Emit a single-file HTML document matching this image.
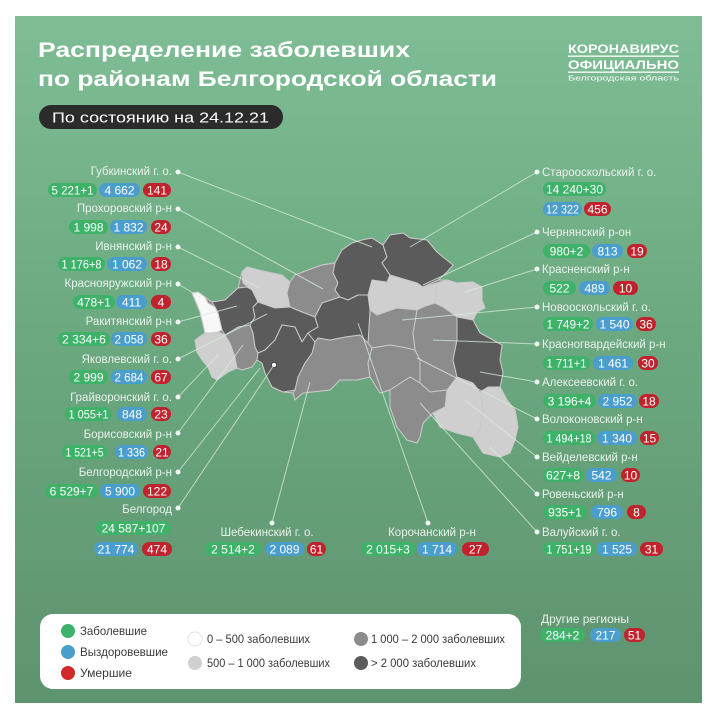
<!DOCTYPE html>
<html><head><meta charset="utf-8"><style>
html,body{margin:0;padding:0;background:#fff;width:720px;height:720px;overflow:hidden}
svg{display:block}
text{font-family:"Liberation Sans","DejaVu Sans",sans-serif}
.lb{font-size:11.5px;fill:#e8f1ea}
.pt{font-size:12px;fill:#fff;text-anchor:middle}
.lg{font-size:12px;fill:#3a3a3a}
</style></head><body>
<svg width="720" height="720" viewBox="0 0 720 720" xmlns="http://www.w3.org/2000/svg">
<defs>
<linearGradient id="bg" x1="0" y1="0" x2="0" y2="1">
<stop offset="0" stop-color="#7ebd95"/>
<stop offset="0.5" stop-color="#6aa77f"/>
<stop offset="1" stop-color="#5e936f"/>
</linearGradient>
</defs>
<rect x="0" y="0" width="720" height="720" fill="#fff"/>
<rect x="15" y="16" width="687" height="687" fill="url(#bg)"/>

<!-- Title -->
<text x="38" y="57" font-size="21" font-weight="bold" fill="#fff" textLength="372" lengthAdjust="spacingAndGlyphs">Распределение заболевших</text>
<text x="38" y="86" font-size="21" font-weight="bold" fill="#fff" textLength="459" lengthAdjust="spacingAndGlyphs">по районам Белгородской области</text>
<rect x="39" y="105" width="244" height="24" rx="12" fill="#2b2b2b"/>
<text x="52" y="122.5" font-size="15" fill="#fff" textLength="217" lengthAdjust="spacingAndGlyphs">По состоянию на 24.12.21</text>

<!-- Logo -->
<text x="568" y="53" font-size="12" font-weight="bold" fill="#fff" textLength="111" lengthAdjust="spacingAndGlyphs">КОРОНАВИРУС</text>
<rect x="568" y="55.5" width="111" height="1.3" fill="#fff"/>
<text x="568" y="69" font-size="12" font-weight="bold" fill="#fff" textLength="111" lengthAdjust="spacingAndGlyphs">ОФИЦИАЛЬНО</text>
<rect x="568" y="71.5" width="111" height="1.3" fill="#fff"/>
<text x="568" y="80.5" font-size="7.5" fill="#fff" textLength="111" lengthAdjust="spacingAndGlyphs">Белгородская область</text>

<!-- Map underlay -->
<g stroke="#c9c9c9" stroke-width="1" stroke-linejoin="round">
<polygon fill="#8c8c8c" points="192,293 198,292 205,297 212,302 225,300 238,288 242,272 247,267 258,270 272,273 282,275 290,282 295,275 308,270 322,265 335,263 342,250 352,243 362,240 372,238 383,245 390,235 403,233 410,238 427,240 437,252 443,257 453,265 447,272 438,280 447,280 457,283 473,282 482,287 482,300 485,308 477,312 473,320 480,333 493,340 502,345 500,360 503,373 500,387 507,400 515,410 518,427 515,440 510,453 500,457 483,453 473,437 457,433 440,427 433,413 423,423 420,437 417,443 407,440 397,427 390,407 390,390 380,393 370,377 357,380 340,380 330,390 303,393 295,400 293,393 283,392 272,387 265,373 262,363 257,360 252,367 242,370 237,368 228,372 217,380 212,377 208,367 202,360 197,352 195,340 205,333 202,320 200,312 195,300"/>
<!-- light -->
<polygon fill="#cfcfcf" points="242,272 247,267 258,270 272,273 282,275 290,282 287,293 290,307 275,308 258,302 252,290 243,283"/>
<polygon fill="#cfcfcf" points="195,340 205,333 218,332 225,335 230,343 235,357 237,368 228,372 217,380 212,377 208,367 202,360 197,352"/>
<polygon fill="#cfcfcf" points="368,295 372,280 387,282 390,275 417,283 423,287 437,283 435,303 423,307 417,310 397,308 377,315 370,310"/>
<polygon fill="#cfcfcf" points="437,283 447,280 457,283 473,282 482,287 482,300 485,308 477,312 473,320 457,317 443,307 435,303"/>
<polygon fill="#cfcfcf" points="447,390 457,377 473,383 480,392 483,410 480,430 473,437 457,433 440,427 433,413 445,407"/>
<polygon fill="#cfcfcf" points="480,392 488,387 500,387 507,400 515,410 518,427 515,440 510,453 500,457 483,453 473,437 480,430 483,410"/>
<!-- mid -->
<polygon fill="#8c8c8c" points="225,335 238,327 250,325 253,333 255,347 258,353 257,360 252,367 242,370 237,368 235,357 230,343"/>
<polygon fill="#8c8c8c" points="290,282 295,275 308,270 322,265 335,263 333,273 338,283 335,290 340,297 322,303 315,317 302,312 290,307 287,293"/>
<polygon fill="#8c8c8c" points="315,342 318,338 330,340 345,337 360,335 368,343 372,348 368,363 370,377 357,380 340,380 330,390 303,393 295,400 293,393 295,390 298,377 305,363 312,353"/>
<polygon fill="#8c8c8c" points="417,310 423,307 435,303 443,307 457,317 457,340 453,360 457,377 447,390 430,392 420,383 420,360 415,350 413,333"/>
<polygon fill="#8c8c8c" points="370,310 377,315 397,308 417,310 413,333 415,350 407,348 390,345 372,348 368,343"/>
<polygon fill="#8c8c8c" points="372,348 390,345 407,348 415,350 420,360 420,383 410,377 390,390 380,393 370,377 368,363"/>
<polygon fill="#8c8c8c" points="390,390 410,377 420,383 430,392 447,390 445,407 433,413 423,423 420,437 417,443 407,440 397,427 390,407"/>
<!-- dark -->
<polygon fill="#5b5b5b" points="212,302 225,300 238,288 247,287 252,290 258,302 253,307 255,317 250,325 238,327 225,335 222,330 218,313 215,307"/>
<polygon fill="#5b5b5b" points="258,302 275,308 290,307 302,312 315,317 318,327 308,333 302,342 295,327 282,325 275,340 265,350 258,353 255,347 253,333 250,325 255,317 253,307"/>
<polygon fill="#5b5b5b" points="275,340 282,325 295,327 302,342 308,333 315,342 312,353 305,363 298,377 295,390 283,392 272,387 265,373 262,363 257,360 258,353 265,350"/>
<polygon fill="#5b5b5b" points="335,263 342,250 352,243 362,240 372,238 383,245 387,257 382,263 390,275 387,282 372,280 368,295 358,295 348,300 340,297 335,290 338,283 333,273"/>
<polygon fill="#5b5b5b" points="315,317 322,303 340,297 348,300 358,295 368,295 370,310 368,343 360,335 345,337 330,340 318,338 315,342 308,333 318,327"/>
<polygon fill="#5b5b5b" points="383,245 390,235 403,233 410,238 427,240 437,252 443,257 453,265 447,272 438,280 423,287 417,283 390,275 382,263 387,257"/>
<polygon fill="#5b5b5b" points="457,317 473,320 480,333 493,340 502,345 500,360 503,373 500,387 488,387 480,392 473,383 457,377 453,360 457,340"/>
<!-- white -->
<polygon fill="#f8f8f8" points="192,293 198,292 205,297 208,303 215,307 218,313 222,330 218,332 210,333 205,333 202,320 200,312 195,300"/>
</g>
<circle cx="274" cy="365" r="2.6" fill="#fff" stroke="#333" stroke-width="0.8"/>

<!-- Leader lines -->
<g stroke="#d8eedc" stroke-width="1" opacity="0.75">
<line x1="178" y1="172" x2="372" y2="247"/>
<line x1="178" y1="209" x2="323" y2="289"/>
<line x1="178" y1="247" x2="260" y2="288"/>
<line x1="178" y1="284" x2="200" y2="297"/>
<line x1="178" y1="322" x2="237" y2="306"/>
<line x1="178" y1="359" x2="267" y2="314"/>
<line x1="178" y1="397" x2="218" y2="355"/>
<line x1="178" y1="433" x2="243" y2="345"/>
<line x1="178" y1="472" x2="260" y2="368"/>
<line x1="178" y1="508" x2="274" y2="365"/>
<line x1="272" y1="523" x2="310" y2="382"/>
<line x1="428" y1="523" x2="358" y2="323"/>
<line x1="537" y1="172" x2="410" y2="247"/>
<line x1="537" y1="232" x2="423" y2="285"/>
<line x1="537" y1="269" x2="465" y2="292"/>
<line x1="537" y1="307" x2="402" y2="320"/>
<line x1="537" y1="344" x2="433" y2="340"/>
<line x1="537" y1="382" x2="480" y2="372"/>
<line x1="537" y1="419" x2="417" y2="358"/>
<line x1="537" y1="457" x2="465" y2="400"/>
<line x1="537" y1="494" x2="490" y2="447"/>
<line x1="537" y1="532" x2="420" y2="403"/>
</g>
<g fill="#eef6f0">
<circle cx="178" cy="172" r="2.5"/><circle cx="178" cy="209" r="2.5"/><circle cx="178" cy="247" r="2.5"/>
<circle cx="178" cy="284" r="2.5"/><circle cx="178" cy="322" r="2.5"/><circle cx="178" cy="359" r="2.5"/>
<circle cx="178" cy="397" r="2.5"/><circle cx="178" cy="433" r="2.5"/><circle cx="178" cy="472" r="2.5"/>
<circle cx="178" cy="508" r="2.5"/><circle cx="272" cy="523" r="2.5"/><circle cx="428" cy="523" r="2.5"/>
<circle cx="537" cy="172" r="2.5"/><circle cx="537" cy="232" r="2.5"/><circle cx="537" cy="269" r="2.5"/>
<circle cx="537" cy="307" r="2.5"/><circle cx="537" cy="344" r="2.5"/><circle cx="537" cy="382" r="2.5"/>
<circle cx="537" cy="419" r="2.5"/><circle cx="537" cy="457" r="2.5"/><circle cx="537" cy="494" r="2.5"/>
<circle cx="537" cy="532" r="2.5"/>
</g>

<!-- Left labels -->
<g class="lb" text-anchor="end">
<text x="172" y="175">Губкинский г. о.</text>
<text x="172" y="212">Прохоровский р-н</text>
<text x="172" y="250">Ивнянский р-н</text>
<text x="172" y="287">Краснояружский р-н</text>
<text x="172" y="325">Ракитянский р-н</text>
<text x="172" y="363">Яковлевский г. о.</text>
<text x="172" y="401">Грайворонский г. о.</text>
<text x="172" y="438">Борисовский р-н</text>
<text x="172" y="476">Белгородский р-н</text>
<text x="172" y="513">Белгород</text>
</g>
<g class="lb">
<text x="542" y="176">Старооскольский г. о.</text>
<text x="542" y="236">Чернянский р-он</text>
<text x="542" y="273">Красненский р-н</text>
<text x="542" y="311">Новооскольский г. о.</text>
<text x="542" y="348">Красногвардейский р-н</text>
<text x="542" y="386">Алексеевский г. о.</text>
<text x="542" y="423">Волоконовский р-н</text>
<text x="542" y="461">Вейделевский р-н</text>
<text x="542" y="498">Ровеньский р-н</text>
<text x="542" y="536">Валуйский г. о.</text>
</g>
<g class="lb" text-anchor="middle">
<text x="267" y="536">Шебекинский г. о.</text>
<text x="432" y="536">Корочанский р-н</text>
</g>

<!-- Pills -->
<g>
<g fill="#3db268">
<rect x="48" y="183" width="49" height="14" rx="7"/>
<rect x="69" y="220" width="39" height="14" rx="7"/>
<rect x="58" y="257" width="47" height="14" rx="7"/>
<rect x="73" y="295" width="42" height="14" rx="7"/>
<rect x="58" y="332" width="52" height="14" rx="7"/>
<rect x="69" y="370" width="39" height="14" rx="7"/>
<rect x="65" y="407" width="47" height="14" rx="7"/>
<rect x="62" y="445" width="45" height="14" rx="7"/>
<rect x="45" y="484" width="53" height="14" rx="7"/>
<rect x="96" y="521" width="75" height="14" rx="7"/>
<rect x="543" y="182" width="63" height="14" rx="7"/>
<rect x="543" y="244" width="47" height="14" rx="7"/>
<rect x="543" y="281" width="33" height="14" rx="7"/>
<rect x="543" y="317" width="50" height="14" rx="7"/>
<rect x="543" y="356" width="47" height="14" rx="7"/>
<rect x="543" y="394" width="53" height="14" rx="7"/>
<rect x="543" y="431" width="52" height="14" rx="7"/>
<rect x="543" y="468" width="40" height="14" rx="7"/>
<rect x="543" y="505" width="44" height="14" rx="7"/>
<rect x="543" y="542" width="52" height="14" rx="7"/>
<rect x="205" y="542" width="56" height="14" rx="7"/>
<rect x="361" y="542" width="54" height="14" rx="7"/>
<rect x="540" y="628" width="45" height="14" rx="7"/>
</g>
<g fill="#4a9ece">
<rect x="99" y="183" width="41" height="14" rx="7"/>
<rect x="110" y="220" width="37" height="14" rx="7"/>
<rect x="107" y="257" width="40" height="14" rx="7"/>
<rect x="116" y="295" width="31" height="14" rx="7"/>
<rect x="111" y="332" width="36" height="14" rx="7"/>
<rect x="111" y="370" width="36" height="14" rx="7"/>
<rect x="117" y="407" width="30" height="14" rx="7"/>
<rect x="115" y="445" width="33" height="14" rx="7"/>
<rect x="100" y="484" width="40" height="14" rx="7"/>
<rect x="94" y="542" width="44" height="14" rx="7"/>
<rect x="543" y="202" width="39" height="14" rx="7"/>
<rect x="592" y="244" width="31" height="14" rx="7"/>
<rect x="579" y="281" width="31" height="14" rx="7"/>
<rect x="596" y="317" width="37" height="14" rx="7"/>
<rect x="593" y="356" width="40" height="14" rx="7"/>
<rect x="598" y="394" width="39" height="14" rx="7"/>
<rect x="597" y="431" width="40" height="14" rx="7"/>
<rect x="586" y="468" width="31" height="14" rx="7"/>
<rect x="591" y="505" width="32" height="14" rx="7"/>
<rect x="597" y="542" width="40" height="14" rx="7"/>
<rect x="265" y="542" width="39" height="14" rx="7"/>
<rect x="417" y="542" width="40" height="14" rx="7"/>
<rect x="590" y="628" width="31" height="14" rx="7"/>
</g>
<g fill="#c0232d">
<rect x="143" y="183" width="28" height="14" rx="7"/>
<rect x="151" y="220" width="20" height="14" rx="7"/>
<rect x="151" y="257" width="20" height="14" rx="7"/>
<rect x="151" y="295" width="20" height="14" rx="7"/>
<rect x="151" y="332" width="20" height="14" rx="7"/>
<rect x="151" y="370" width="20" height="14" rx="7"/>
<rect x="151" y="407" width="20" height="14" rx="7"/>
<rect x="153" y="445" width="18" height="14" rx="7"/>
<rect x="143" y="484" width="28" height="14" rx="7"/>
<rect x="142" y="542" width="30" height="14" rx="7"/>
<rect x="584" y="202" width="27" height="14" rx="7"/>
<rect x="627" y="244" width="20" height="14" rx="7"/>
<rect x="613" y="281" width="25" height="14" rx="7"/>
<rect x="636" y="317" width="20" height="14" rx="7"/>
<rect x="638" y="356" width="20" height="14" rx="7"/>
<rect x="639" y="394" width="20" height="14" rx="7"/>
<rect x="640" y="431" width="19" height="14" rx="7"/>
<rect x="621" y="468" width="19" height="14" rx="7"/>
<rect x="627" y="505" width="19" height="14" rx="7"/>
<rect x="640" y="542" width="23" height="14" rx="7"/>
<rect x="307" y="542" width="19" height="14" rx="7"/>
<rect x="462" y="542" width="27" height="14" rx="7"/>
<rect x="624" y="628" width="21" height="14" rx="7"/>
</g>
<g class="pt">
<text x="72.5" y="194.5" textLength="42" lengthAdjust="spacingAndGlyphs">5 221+1</text>
<text x="119.5" y="194.5">4 662</text>
<text x="157" y="194.5">141</text>
<text x="88.5" y="231.5">1 998</text>
<text x="128.5" y="231.5" textLength="30" lengthAdjust="spacingAndGlyphs">1 832</text>
<text x="161" y="231.5">24</text>
<text x="81.5" y="268.5" textLength="40" lengthAdjust="spacingAndGlyphs">1 176+8</text>
<text x="127" y="268.5">1 062</text>
<text x="161" y="268.5">18</text>
<text x="94" y="306.5">478+1</text>
<text x="131.5" y="306.5">411</text>
<text x="161" y="306.5">4</text>
<text x="84" y="343.5">2 334+6</text>
<text x="129" y="343.5" textLength="29" lengthAdjust="spacingAndGlyphs">2 058</text>
<text x="161" y="343.5">36</text>
<text x="88.5" y="381.5">2 999</text>
<text x="129" y="381.5" textLength="29" lengthAdjust="spacingAndGlyphs">2 684</text>
<text x="161" y="381.5">67</text>
<text x="88.5" y="418.5" textLength="40" lengthAdjust="spacingAndGlyphs">1 055+1</text>
<text x="132" y="418.5">848</text>
<text x="161" y="418.5">23</text>
<text x="84.5" y="456.5" textLength="38" lengthAdjust="spacingAndGlyphs">1 521+5</text>
<text x="131.5" y="456.5" textLength="27" lengthAdjust="spacingAndGlyphs">1 336</text>
<text x="162" y="456.5">21</text>
<text x="71.5" y="495.5">6 529+7</text>
<text x="120" y="495.5">5 900</text>
<text x="157" y="495.5">122</text>
<text x="133.5" y="532.5">24 587+107</text>
<text x="116" y="553.5">21 774</text>
<text x="157" y="553.5">474</text>
<text x="574.5" y="193.5">14 240+30</text>
<text x="562.5" y="213.5" textLength="33" lengthAdjust="spacingAndGlyphs">12 322</text>
<text x="597.5" y="213.5">456</text>
<text x="566.5" y="255.5">980+2</text>
<text x="607.5" y="255.5">813</text>
<text x="637" y="255.5">19</text>
<text x="559.5" y="292.5">522</text>
<text x="594.5" y="292.5">489</text>
<text x="625.5" y="292.5">10</text>
<text x="568" y="328.5" textLength="43" lengthAdjust="spacingAndGlyphs">1 749+2</text>
<text x="614.5" y="328.5" textLength="30" lengthAdjust="spacingAndGlyphs">1 540</text>
<text x="646" y="328.5">36</text>
<text x="566.5" y="367.5" textLength="40" lengthAdjust="spacingAndGlyphs">1 711+1</text>
<text x="613" y="367.5">1 461</text>
<text x="648" y="367.5">30</text>
<text x="569.5" y="405.5">3 196+4</text>
<text x="617.5" y="405.5">2 952</text>
<text x="649" y="405.5">18</text>
<text x="569" y="442.5" textLength="45" lengthAdjust="spacingAndGlyphs">1 494+18</text>
<text x="617" y="442.5">1 340</text>
<text x="649.5" y="442.5">15</text>
<text x="563" y="479.5" textLength="34" lengthAdjust="spacingAndGlyphs">627+8</text>
<text x="601.5" y="479.5">542</text>
<text x="630.5" y="479.5">10</text>
<text x="565" y="516.5">935+1</text>
<text x="607" y="516.5">796</text>
<text x="636.5" y="516.5">8</text>
<text x="569" y="553.5" textLength="45" lengthAdjust="spacingAndGlyphs">1 751+19</text>
<text x="617" y="553.5">1 525</text>
<text x="651.5" y="553.5">31</text>
<text x="233" y="553.5">2 514+2</text>
<text x="284.5" y="553.5">2 089</text>
<text x="316.5" y="553.5">61</text>
<text x="388" y="553.5">2 015+3</text>
<text x="437" y="553.5">1 714</text>
<text x="475.5" y="553.5">27</text>
<text x="562.5" y="639.5">284+2</text>
<text x="605.5" y="639.5">217</text>
<text x="634.5" y="639.5">51</text>
</g>
</g>

<!-- Other regions -->
<text x="541" y="623" font-size="11.5" fill="#e8f1ea" textLength="88" lengthAdjust="spacingAndGlyphs">Другие регионы</text>

<!-- Legend -->
<rect x="40" y="614" width="481" height="75" rx="13" fill="#fff"/>
<circle cx="68" cy="631" r="7" fill="#3db268"/>
<circle cx="68" cy="652" r="7" fill="#4a9ece"/>
<circle cx="68" cy="673" r="7" fill="#d12a2a"/>
<text class="lg" x="80" y="635" textLength="67" lengthAdjust="spacingAndGlyphs">Заболевшие</text>
<text class="lg" x="80" y="656" textLength="88" lengthAdjust="spacingAndGlyphs">Выздоровевшие</text>
<text class="lg" x="80" y="677" textLength="52" lengthAdjust="spacingAndGlyphs">Умершие</text>
<circle cx="195" cy="639" r="7" fill="#fff" stroke="#e2e2e2" stroke-width="1"/>
<circle cx="195" cy="663" r="7" fill="#d0d0d0"/>
<circle cx="361" cy="639" r="7" fill="#8c8c8c"/>
<circle cx="361" cy="663" r="7" fill="#5b5b5b"/>
<text class="lg" x="207" y="643" textLength="103" lengthAdjust="spacingAndGlyphs">0 – 500 заболевших</text>
<text class="lg" x="207" y="667" textLength="123" lengthAdjust="spacingAndGlyphs">500 – 1 000 заболевших</text>
<text class="lg" x="371" y="643" textLength="134" lengthAdjust="spacingAndGlyphs">1 000 – 2 000 заболевших</text>
<text class="lg" x="371" y="667" textLength="105" lengthAdjust="spacingAndGlyphs">&gt; 2 000 заболевших</text>
</svg>
</body></html>
